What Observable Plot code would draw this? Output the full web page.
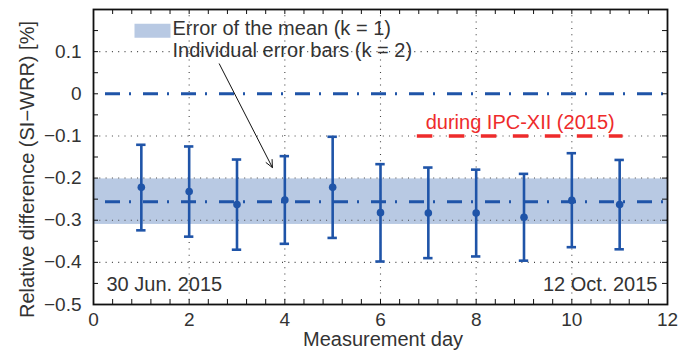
<!DOCTYPE html>
<html>
<head>
<meta charset="utf-8">
<script src="https://cdn.jsdelivr.net/npm/d3@7"></script>
<script src="https://cdn.jsdelivr.net/npm/@observablehq/plot@0.6"></script>
<style>
  html, body { margin: 0; padding: 0; background: white; }
</style>
</head>
<body>
<div id="chart"></div>
<script>
// ---- data ----
const days  = [1, 2, 3, 4, 5, 6, 7, 8, 9, 10, 11];
const means = [-0.222, -0.232, -0.263, -0.252, -0.222, -0.282, -0.283, -0.283, -0.293, -0.253, -0.263];
const lows  = [-0.324, -0.339, -0.370, -0.356, -0.342, -0.398, -0.390, -0.386, -0.396, -0.364, -0.369];
const highs = [-0.121, -0.125, -0.156, -0.148, -0.102, -0.167, -0.175, -0.180, -0.190, -0.141, -0.157];

const overallMean = [-0.256];
const meanBand = [{lo: -0.310, hi: -0.202}];
const zeroLine = [0];
const ipcSpan = [{x1: 6.77, x2: 11.07, y: -0.1, label: "during IPC-XII (2015)"}];

const xDomain = [0, 12];
const yDomain = [-0.5, 0.2];
const xTickLabels = [0, 2, 4, 6, 8, 10, 12];
const yTickLabels = [-0.5, -0.4, -0.3, -0.2, -0.1, 0, 0.1];
const xGrid = [2, 4, 6, 8, 10];
const yGrid = [-0.4, -0.3, -0.2, -0.1, 0.1];
const xMinor = d3.range(0, 12.001, 0.4);
const yMinor = d3.range(-0.5, 0.2001, 0.05);

const legendLabels = ["Error of the mean (k = 1)", "Individual error bars (k = 2)"];
const dateLabels = {start: "30 Jun. 2015", end: "12 Oct. 2015"};
const arrowSpec = [{x1: 2.63, y1: 0.071, x2: 3.74, y2: -0.175}];
const xLabel = "Measurement day";
const yLabel = "Relative difference (SI\u2212WRR) [%]";

const blue = "#1f54a8";
const bandColor = "#b8c9e3";
const red = "#ee2b2b";
const ink = "#333";

const data = days.map((d, i) => ({day: d, mean: means[i], lo: lows[i], hi: highs[i]}));

const W = 683, H = 351;
const mT = 9, mB = 47, mL = 93, mR = 16;
const fw = W - mL - mR, fh = H - mT - mB;

const swatch = {draw(ctx) { ctx.rect(-18, -7, 36, 14); }};

const fmt = d => d === 0 ? "0" : d3.format(".1f")(d);

const chart = Plot.plot({
  width: W, height: H,
  marginTop: mT, marginBottom: mB, marginLeft: mL, marginRight: mR,
  x: {domain: xDomain},
  y: {domain: yDomain},
  style: {fontFamily: "'Liberation Sans', Arial, sans-serif", fontSize: "19px", color: ink, background: "white"},
  marks: [
    // band: error of the mean
    Plot.rect(meanBand, {x1: xDomain[0], x2: xDomain[1], y1: "lo", y2: "hi", fill: bandColor}),
    // dotted grid
    Plot.ruleX(xGrid, {x: d => d, stroke: "#444", strokeWidth: 1.1, strokeDasharray: "1,5.3"}),
    Plot.ruleY(yGrid, {y: d => d, stroke: "#444", strokeWidth: 1.1, strokeDasharray: "1,5.3"}),
    // zero and mean lines (dash-dot)
    Plot.ruleY(zeroLine, {y: d => d, stroke: blue, strokeWidth: 3, strokeDasharray: "15,9,2,12", strokeDashoffset: 26}),
    Plot.ruleY(overallMean, {y: d => d, stroke: blue, strokeWidth: 3, strokeDasharray: "15,9,2,12", strokeDashoffset: 26}),
    // IPC-XII red dashed line + label
    Plot.ruleY(ipcSpan, {y: "y", x1: "x1", x2: "x2", stroke: red, strokeWidth: 3.5, strokeDasharray: "15.5,16.5"}),
    Plot.text(ipcSpan, {x: d => (d.x1 + d.x2) / 2, y: "y", text: "label", fill: red, fontSize: 20, dy: -13.5, lineAnchor: "middle"}),
    // error bars
    Plot.ruleX(data, {x: "day", y1: "lo", y2: "hi", stroke: blue, strokeWidth: 2.6}),
    Plot.ruleY(data, {y: "lo", x1: "day", x2: "day", insetLeft: -4.7, insetRight: -4.7, stroke: blue, strokeWidth: 2.6}),
    Plot.ruleY(data, {y: "hi", x1: "day", x2: "day", insetLeft: -4.7, insetRight: -4.7, stroke: blue, strokeWidth: 2.6}),
    Plot.dot(data, {x: "day", y: "mean", r: 3.8, fill: blue}),
    // arrow
    Plot.arrow(arrowSpec, {x1: "x1", y1: "y1", x2: "x2", y2: "y2", stroke: "#111", strokeWidth: 1, headLength: 12, headAngle: 50}),
    // legend
    Plot.dot([legendLabels[0]], {frameAnchor: "top-left", dx: 59, dy: 21.3, symbol: swatch, fill: bandColor, stroke: "none"}),
    Plot.text([legendLabels[0]], {frameAnchor: "top-left", dx: 79, dy: 19.5, text: d => d, textAnchor: "start", lineAnchor: "middle", fontSize: 20, fill: ink}),
    Plot.text([legendLabels[1]], {frameAnchor: "top-left", dx: 79, dy: 40.7, text: d => d, textAnchor: "start", lineAnchor: "middle", fontSize: 20, fill: ink}),
    // date labels
    Plot.text([dateLabels.start], {frameAnchor: "bottom-left", dx: 13, dy: -20, text: d => d, textAnchor: "start", lineAnchor: "middle", fontSize: 20, fill: ink}),
    Plot.text([dateLabels.end], {frameAnchor: "bottom-right", dx: -10, dy: -20, text: d => d, textAnchor: "end", lineAnchor: "middle", fontSize: 20, fill: ink}),
    // frame and inward ticks
    Plot.frame({stroke: "#111", strokeWidth: 1.8}),
    Plot.tickX(xMinor, {x: d => d, insetTop: fh - 5, stroke: "#111", strokeWidth: 1}),
    Plot.tickX(xMinor, {x: d => d, insetBottom: fh - 5, stroke: "#111", strokeWidth: 1}),
    Plot.tickY(yMinor, {y: d => d, insetRight: fw - 5, stroke: "#111", strokeWidth: 1}),
    Plot.tickY(yMinor, {y: d => d, insetLeft: fw - 5, stroke: "#111", strokeWidth: 1}),
    // axes
    Plot.axisX(xTickLabels, {tickSize: 0, tickPadding: 8, label: null, fontSize: 19, fill: ink}),
    Plot.axisY(yTickLabels, {tickSize: 0, tickPadding: 12, tickFormat: fmt, label: null, fontSize: 19, fill: ink}),
    // axis titles
    Plot.text([xLabel], {frameAnchor: "bottom", dx: 2.5, dy: 35.5, text: d => d, lineAnchor: "middle", fontSize: 20, fill: ink}),
    Plot.text([yLabel], {frameAnchor: "left", dx: -66, dy: 12.5, rotate: -90, text: d => d, textAnchor: "middle", lineAnchor: "middle", fontSize: 20, fill: ink})
  ]
});
document.getElementById("chart").appendChild(chart);
</script>
</body>
</html>
